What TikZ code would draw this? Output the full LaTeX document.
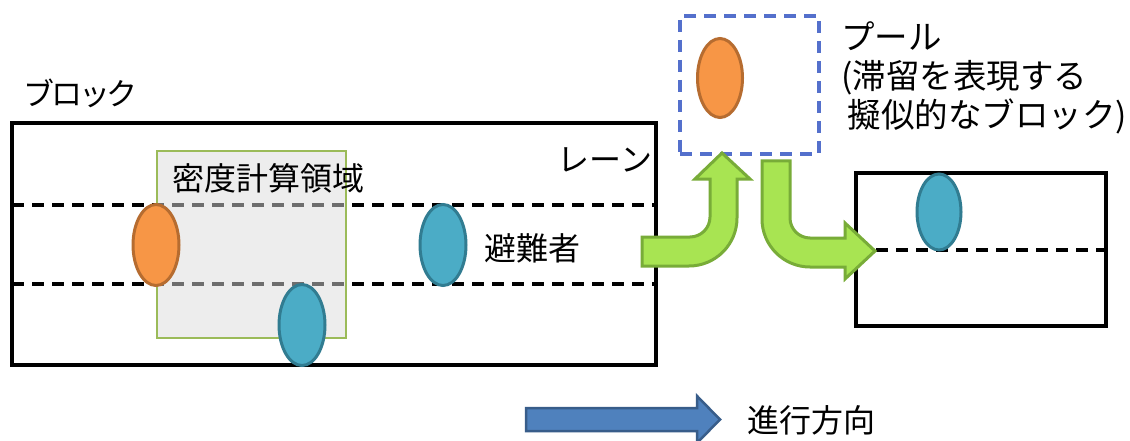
\documentclass[tikz,border=0pt]{standalone}
\usepackage{fontspec}
\setmainfont{Noto Sans CJK JP}
\newfontfamily\propjp[RawFeature=+palt]{Noto Sans CJK JP}
\usetikzlibrary{shapes.geometric}
\definecolor{orfill}{RGB}{247,150,70}
\definecolor{ordraw}{RGB}{182,108,48}
\definecolor{blfill}{RGB}{75,172,198}
\definecolor{bldraw}{RGB}{49,124,145}
\definecolor{grfill}{RGB}{168,228,82}
\definecolor{grdraw}{RGB}{120,172,56}
\definecolor{areadraw}{RGB}{155,187,89}
\definecolor{pooldraw}{RGB}{84,112,204}
\definecolor{arfill}{RGB}{79,129,189}
\definecolor{ardraw}{RGB}{56,93,138}
\tikzset{
  blockbox/.style={draw=black,line width=3.3pt,inner sep=0pt},
  lanedash/.style={line width=3.3pt,dash pattern=on 12pt off 8pt},
  orangeped/.style={ellipse,fill=orfill,draw=ordraw,line width=3pt,minimum width=46pt,minimum height=81pt,inner sep=0pt},
  blueped/.style={ellipse,fill=blfill,draw=bldraw,line width=3pt,minimum width=46pt,minimum height=81pt,inner sep=0pt},
  greenarrow/.style={fill=grfill,draw=grdraw,line width=3pt,line join=miter},
  lbl/.style={font=\fontsize{32}{38}\selectfont,inner sep=0pt},
}
\begin{document}
\begin{tikzpicture}[x=1pt,y=-1pt]
\useasboundingbox[fill=white] (0,0) rectangle (1130,441);
% main block
\node[blockbox,minimum width=644pt,minimum height=242pt] (blk) at (334,244) {};
\coordinate (l1a) at (12,205); \coordinate (l1b) at (656,205);
\coordinate (l2a) at (12,284); \coordinate (l2b) at (656,284);
\draw[lanedash] (l1a) -- (l1b);
\draw[lanedash] (l2a) -- (l2b);
% density area
\node[draw=areadraw,line width=2.8pt,fill={rgb,255:red,221;green,221;blue,221},fill opacity=0.5,minimum width=189pt,minimum height=187pt,inner sep=0pt] (area) at (251.5,244.5) {};
\node[lbl] (areatxt) at (268,178) {密度計算領域};
\node[lbl,font=\fontsize{31}{36}\propjp] (blktxt) at (80,93.5) {ブロック};
\node[lbl] (lanetxt) at (605,160) {レーン};
\node[lbl] (pedtxt) at (532,248) {避難者};
% pedestrians
\node[orangeped] (p1) at (156,245) {};
\node[blueped] (p2) at (302,325) {};
\node[blueped] (p3) at (443,245) {};
% pool
\node[draw=pooldraw,line width=3.2pt,dash pattern=on 12pt off 8pt,minimum width=139pt,minimum height=138pt,inner sep=0pt] (pool) at (749.5,85) {};
\node[orangeped,minimum width=45pt,minimum height=79pt] (p4) at (720,78) {};
\node[lbl,font=\fontsize{33.5}{39}\selectfont,anchor=west,align=left] (pooltxt) at (841,78) {プール\\(滞留を表現する\\\hspace*{0.2em}擬似的なブロック)};
% right block
\node[blockbox,minimum width=250pt,minimum height=153pt] (blk2) at (981,249.5) {};
\coordinate (l3a) at (856,250); \coordinate (l3b) at (1106,250);
\draw[lanedash] (l3a) -- (l3b);
\node[blueped,minimum width=44pt,minimum height=76pt] (p5) at (939,212) {};
% green arrows
\draw[greenarrow] (642,237) -- (690,237) .. controls (701,237) and (710,228) .. (710,217)
  -- (710,179) -- (695,179) -- (722,153) -- (750,179) -- (737,179) -- (737,218)
  .. controls (737,244.5) and (715.5,266) .. (689,266) -- (642,266) -- cycle;
\draw[greenarrow] (762,161) -- (790,161) -- (790,218) .. controls (790,229) and (799,238) .. (810,238)
  -- (845,238) -- (845,223) -- (875,251) -- (845,279) -- (845,267) -- (810,267)
  .. controls (783.5,267) and (762,245.5) .. (762,219) -- cycle;
% direction arrow
\draw[fill=arfill,draw=ardraw,line width=2.5pt] (526,408) -- (697,408) -- (697,396) -- (720,419.5) -- (697,443) -- (697,431) -- (526,431) -- cycle;
\node[lbl] (dirtxt) at (811,420) {進行方向};
\end{tikzpicture}
\end{document}
